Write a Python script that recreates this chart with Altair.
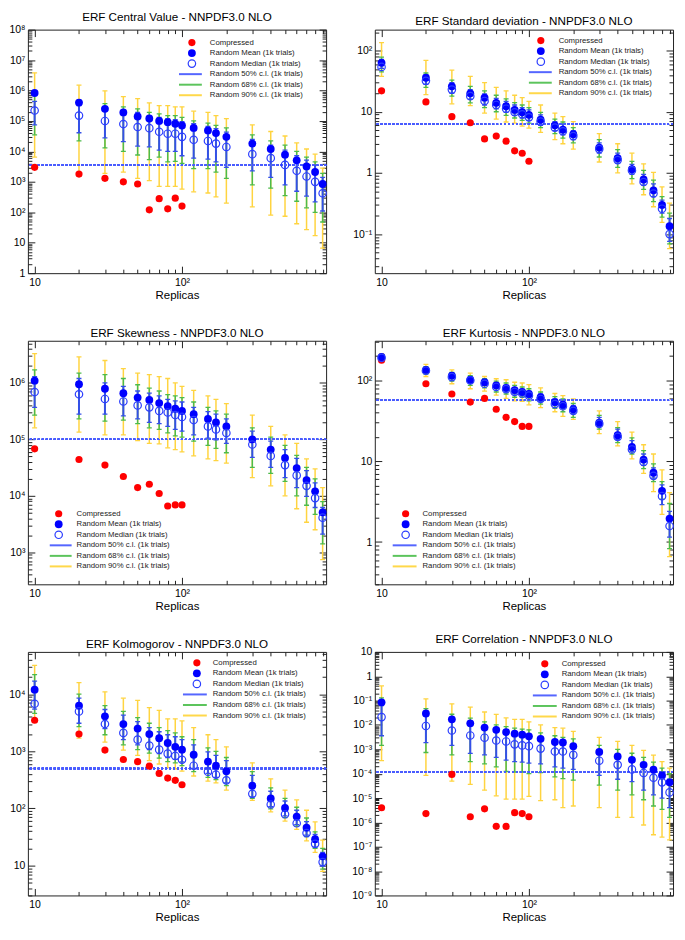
import altair as alt
import pandas as pd

# ------------------------------------------------------------------ data
REPLICAS = [10, 20, 30, 40, 50, 60, 70, 80, 90, 100, 120, 150, 170, 200,
            300, 400, 500, 600, 700, 800, 900]
COMPRESSED_REPLICAS = [10, 20, 30, 40, 50, 60, 70, 80, 90, 100]
LEGEND_LABELS = ["Compressed", "Random Mean (1k trials)", "Random Median (1k trials)",
                 "Random 50% c.l. (1k trials)", "Random 68% c.l. (1k trials)",
                 "Random 90% c.l. (1k trials)"]

# ERF Central Value
CV_MEAN = [8.3e5, 4.0e5, 2.5e5, 1.9e5, 1.4e5, 1.2e5, 1.0e5, 9.1e4, 8.1e4, 7.1e4, 5.9e4,
           4.9e4, 4.0e4, 3.0e4, 1.8e4, 1.2e4, 7.8e3, 5.1e3, 3.2e3, 2.1e3, 850]
CV_MEDIAN = [2.2e5, 1.5e5, 1.0e5, 7.9e4, 6.3e4, 5.8e4, 4.4e4, 3.8e4, 3.8e4, 3.0e4, 2.4e4,
             2.2e4, 1.8e4, 1.4e4, 8.1e3, 6.0e3, 3.6e3, 2.3e3, 1.5e3, 1.0e3, 420]
CV_LO50 = [7.4e4, 4.1e4, 2.8e4, 2.1e4, 1.5e4, 1.4e4, 1.1e4, 1.0e4, 1.0e4, 7.2e3, 6.0e3,
           5.6e3, 4.5e3, 3.0e3, 2.3e3, 1.4e3, 790, 490, 340, 220, 110]
CV_HI50 = [4.4e5, 3.2e5, 2.9e5, 2.2e5, 1.9e5, 1.4e5, 1.3e5, 1.2e5, 1.1e5, 9.5e4, 8.1e4,
           6.6e4, 5.6e4, 4.3e4, 2.5e4, 1.6e4, 1.1e4, 7.2e3, 5.2e3, 3.5e3, 1.4e3]
CV_LO68 = [3.5e4, 2.2e4, 1.3e4, 1.0e4, 7.6e3, 5.4e3, 6.5e3, 4.5e3, 4.7e3, 4.0e3, 2.7e3,
           2.7e3, 2.1e3, 1.3e3, 790, 620, 350, 230, 140, 100, 48]
CV_HI68 = [7.4e5, 4.7e5, 3.7e5, 2.9e5, 2.5e5, 1.9e5, 1.7e5, 1.5e5, 1.5e5, 1.3e5, 1.0e5,
           8.5e4, 7.2e4, 5.9e4, 3.5e4, 2.2e4, 1.6e4, 1.0e4, 6.5e3, 4.5e3, 1.9e3]
CV_LO90 = [6.5e3, 2.0e3, 1.9e3, 2.1e3, 1.3e3, 1.1e3, 710, 710, 710, 580, 470,
           430, 320, 200, 150, 81, 74, 42, 27, 17, 6.6]
CV_HI90 = [3.8e6, 1.5e6, 9.8e5, 6.3e5, 5.4e5, 3.9e5, 3.2e5, 3.2e5, 2.9e5, 2.9e5, 2.1e5,
           1.9e5, 1.5e5, 1.2e5, 7.4e4, 4.5e4, 3.2e4, 1.9e4, 1.2e4, 8.1e3, 2.8e3]
CV_COMP = [3.0e3, 1.8e3, 1.3e3, 1.0e3, 850, 120, 280, 130, 290, 160]
CV_REF = 3.5e3

# ERF Standard deviation
SD_MEAN = [63, 36, 26, 20, 17, 14, 12.3, 10.7, 9.8, 8.9, 7.4, 6.0, 5.1, 4.3, 2.6, 1.74,
           1.15, 0.78, 0.52, 0.30, 0.135]
SD_MEDIAN = [54, 32, 23, 18, 15, 12.9, 11.2, 9.8, 9.1, 8.1, 6.9, 5.5, 4.8, 4.0, 2.45, 1.62,
             1.10, 0.71, 0.46, 0.26, 0.10]
SD_LO50 = [51, 28, 20, 16, 12.9, 11.2, 9.8, 8.7, 7.9, 7.2, 6.0, 4.9, 4.2, 3.5, 2.1, 1.45,
           0.95, 0.63, 0.41, 0.22, 0.076]
SD_HI50 = [72, 40, 30, 23, 19.5, 16.6, 14.8, 12.9, 11.7, 10.7, 8.9, 6.9, 6.2, 4.9, 3.1, 2.1,
           1.38, 0.95, 0.66, 0.36, 0.18]
SD_LO68 = [45, 25, 18, 14, 11.7, 10, 8.7, 7.9, 7.2, 6.5, 5.5, 4.4, 3.7, 3.1, 1.82, 1.23,
           0.81, 0.54, 0.34, 0.19, 0.069]
SD_HI68 = [78, 43, 33, 26, 22, 18.6, 16.2, 14.1, 12.9, 11.7, 9.8, 7.6, 6.8, 5.5, 3.5, 2.4,
           1.55, 1.10, 0.76, 0.41, 0.22]
SD_LO90 = [38, 19, 13.5, 12.6, 9.5, 7.6, 6.8, 6.5, 5.8, 5.4, 4.6, 3.5, 3.0, 2.45, 1.51, 1.0,
           0.66, 0.44, 0.28, 0.155, 0.058]
SD_HI90 = [135, 69, 48, 38, 30, 25, 22, 18.6, 17, 14.8, 12.9, 9.5, 8.3, 6.9, 4.4, 3.0,
           2.1, 1.41, 1.02, 0.59, 0.32]
SD_COMP = [22, 14.5, 8.3, 6.6, 3.6, 4.0, 3.3, 2.3, 2.1, 1.55]
SD_REF = 6.3

# ERF Skewness
SK_MEAN = [1.1e6, 9.5e5, 7.9e5, 6.6e5, 5.5e5, 5.0e5, 4.4e5, 3.9e5, 3.5e5, 3.2e5, 2.8e5,
           2.3e5, 2.0e5, 1.7e5, 1.0e5, 6.6e4, 4.7e4, 3.1e4, 1.9e4, 1.2e4, 5.1e3]
SK_MEDIAN = [6.9e5, 6.3e5, 5.2e5, 4.7e5, 4.0e5, 3.7e5, 3.2e5, 3.0e5, 2.7e5, 2.5e5, 2.2e5,
             1.7e5, 1.5e5, 1.3e5, 8.1e4, 5.1e4, 3.5e4, 2.3e4, 1.5e4, 9.1e3, 4.1e3]
SK_LO50 = [3.7e5, 2.8e5, 2.8e5, 2.6e5, 2.3e5, 2.0e5, 1.9e5, 1.7e5, 1.5e5, 1.4e5, 1.2e5,
           1.05e5, 9.8e4, 8.5e4, 4.8e4, 3.2e4, 2.1e4, 1.4e4, 9.8e3, 6.2e3, 2.1e3]
SK_HI50 = [1.3e6, 1.2e6, 1.0e6, 8.7e5, 7.2e5, 6.6e5, 5.9e5, 5.1e5, 4.8e5, 4.6e5, 3.7e5,
           3.1e5, 2.8e5, 2.3e5, 1.4e5, 9.3e4, 6.6e4, 4.6e4, 2.8e4, 1.7e4, 6.2e3]
SK_LO68 = [2.7e5, 2.3e5, 2.1e5, 2.2e5, 1.9e5, 1.6e5, 1.5e5, 1.3e5, 1.15e5, 1.1e5, 9.3e4,
           7.8e4, 6.9e4, 5.8e4, 3.2e4, 2.5e4, 1.8e4, 1.0e4, 6.8e3, 4.7e3, 1.4e3]
SK_HI68 = [1.7e6, 1.5e6, 1.4e6, 1.2e6, 9.3e5, 8.1e5, 7.2e5, 6.2e5, 5.9e5, 5.5e5, 4.6e5,
           3.7e5, 3.2e5, 2.8e5, 1.6e5, 1.1e5, 7.8e4, 5.2e4, 3.2e4, 2.0e4, 7.9e3]
SK_LO90 = [1.6e5, 1.35e5, 1.2e5, 1.2e5, 9.5e4, 8.5e4, 8.3e4, 7.1e4, 6.6e4, 6.0e4, 5.1e4,
           4.5e4, 4.2e4, 3.8e4, 2.1e4, 1.5e4, 1.0e4, 5.9e3, 3.4e3, 2.5e3, 740]
SK_HI90 = [3.3e6, 2.9e6, 2.5e6, 1.8e6, 1.5e6, 1.4e6, 1.3e6, 1.2e6, 1.0e6, 8.7e5, 7.4e5,
           5.9e5, 5.1e5, 4.3e5, 2.7e5, 1.7e5, 1.2e5, 8.5e4, 4.5e4, 3.0e4, 1.4e4]
SK_COMP = [6.8e4, 4.4e4, 3.5e4, 2.2e4, 1.4e4, 1.6e4, 1.1e4, 6.6e3, 6.9e3, 6.9e3]
SK_REF = 1.0e5

# ERF Kurtosis
KU_MEAN = [195, 135, 115, 102, 95, 87, 81, 76, 72, 68, 62, 54, 50, 44, 30, 21, 15, 10.5,
           7.2, 4.3, 1.95]
KU_MEDIAN = [190, 132, 110, 100, 91, 83, 78, 72, 69, 65, 59, 51, 48, 42, 29, 20, 14, 9.8,
             6.6, 3.7, 1.58]
KU_LO50 = [182, 125, 105, 93, 87, 79, 72, 68, 66, 62, 55, 49, 45, 39, 27, 18.6, 13.2, 8.9,
           6.2, 2.9, 1.15]
KU_HI50 = [200, 141, 120, 110, 100, 93, 87, 81, 78, 74, 68, 59, 55, 49, 35, 25, 18, 12.3,
           8.3, 5.1, 2.4]
KU_LO68 = [178, 120, 98, 87, 81, 72, 68, 62, 62, 56, 51, 45, 41, 35, 25, 17, 12.3, 8.1,
           5.6, 3.4, 0.83]
KU_HI68 = [204, 148, 126, 115, 105, 98, 93, 87, 83, 79, 72, 63, 59, 52, 37, 26, 19.5, 13.5,
           9.3, 5.6, 3.0]
KU_LO90 = [170, 112, 91, 79, 74, 66, 60, 56, 55, 50, 46, 41, 36, 33, 22, 15.5, 10.7, 7.1,
           4.2, 2.2, 0.66]
KU_HI90 = [214, 158, 135, 123, 112, 105, 102, 95, 93, 89, 81, 69, 65, 59, 42, 31, 23, 16,
           12.3, 7.8, 4.1]
KU_COMP = [178, 91, 68, 54, 60, 44, 35, 31, 27, 27]
KU_REF = 57

# ERF Kolmogorov
KO_MEAN = [1.2e4, 6.3e3, 4.1e3, 3.0e3, 2.5e3, 2.0e3, 1.7e3, 1.4e3, 1.2e3, 1.07e3, 870,
           660, 560, 450, 250, 150, 102, 72, 46, 29, 14.5]
KO_MEDIAN = [6.8e3, 5.0e3, 3.0e3, 2.1e3, 1.6e3, 1.26e3, 1.07e3, 910, 830, 710, 560,
             440, 390, 310, 180, 117, 79, 55, 37, 24, 11.5]
KO_LO50 = [5.5e3, 3.1e3, 2.5e3, 1.6e3, 1.3e3, 1.07e3, 910, 780, 720, 650, 500,
           410, 350, 280, 160, 107, 74, 52, 34, 21, 9.8]
KO_HI50 = [1.7e4, 8.5e3, 5.4e3, 4.3e3, 3.3e3, 2.6e3, 2.2e3, 1.95e3, 1.8e3, 1.6e3, 1.3e3,
           980, 850, 690, 380, 200, 135, 93, 59, 35, 17]
KO_LO68 = [4.6e3, 2.7e3, 1.95e3, 1.3e3, 1.07e3, 930, 760, 660, 630, 560, 440,
           350, 320, 250, 150, 98, 69, 49, 32, 20, 8.7]
KO_HI68 = [2.2e4, 1.0e4, 6.3e3, 5.0e3, 3.9e3, 3.1e3, 2.6e3, 2.3e3, 2.1e3, 1.8e3, 1.6e3,
           1.15e3, 1.0e3, 780, 440, 230, 150, 105, 68, 39, 20]
KO_LO90 = [3.7e3, 1.7e3, 1.45e3, 1.05e3, 850, 690, 600, 520, 490, 450, 370,
           300, 280, 210, 138, 87, 60, 43, 27, 17, 7.9]
KO_HI90 = [3.2e4, 1.6e4, 1.1e4, 8.5e3, 7.8e3, 5.8e3, 5.2e3, 3.7e3, 3.7e3, 3.4e3, 2.6e3,
           1.95e3, 1.6e3, 1.2e3, 630, 330, 210, 141, 93, 58, 28]
KO_COMP = [3.5e3, 2.0e3, 1.05e3, 720, 660, 550, 410, 340, 310, 260]
KO_REF = 500

# ERF Correlation
CO_MEAN = [8.5e-2, 2.95e-2, 1.7e-2, 1.17e-2, 7.8e-3, 6.3e-3, 5.1e-3, 4.4e-3, 4.0e-3, 3.4e-3,
           2.7e-3, 2.0e-3, 1.9e-3, 1.35e-3, 7.8e-4, 5.1e-4, 3.7e-4, 2.3e-4, 1.45e-4, 8.5e-5, 4.4e-5]
CO_MEDIAN = [2.1e-2, 9.1e-3, 5.9e-3, 3.7e-3, 3.0e-3, 2.3e-3, 2.1e-3, 1.6e-3, 1.45e-3, 1.35e-3,
             1.07e-3, 8.1e-4, 8.1e-4, 5.9e-4, 3.4e-4, 2.3e-4, 1.5e-4, 1.07e-4, 6.8e-5, 4.4e-5, 1.7e-5]
CO_LO50 = [3.6e-3, 1.9e-3, 1.45e-3, 6.8e-4, 5.9e-4, 4.7e-4, 3.6e-4, 3.1e-4, 3.0e-4, 2.7e-4,
           2.5e-4, 1.9e-4, 1.7e-4, 1.5e-4, 8.5e-5, 5.9e-5, 4.7e-5, 2.1e-5, 1.35e-5, 1.0e-5, 4.0e-6]
CO_HI50 = [6.3e-2, 2.3e-2, 1.6e-2, 1.0e-2, 7.4e-3, 5.4e-3, 4.7e-3, 4.0e-3, 3.6e-3, 3.2e-3,
           2.5e-3, 1.95e-3, 1.7e-3, 1.35e-3, 7.8e-4, 5.4e-4, 3.7e-4, 2.5e-4, 1.6e-4, 9.3e-5, 5.9e-5]
CO_LO68 = [1.45e-3, 7.4e-4, 5.9e-4, 3.1e-4, 2.5e-4, 1.9e-4, 1.23e-4, 1.17e-4, 1.17e-4, 1.0e-4,
           1.1e-4, 7.4e-5, 6.3e-5, 5.4e-5, 3.4e-5, 2.1e-5, 1.35e-5, 8.5e-6, 4.7e-6, 3.4e-6, 1.6e-6]
CO_HI68 = [1.3e-1, 4.7e-2, 2.75e-2, 1.9e-2, 1.35e-2, 1.0e-2, 8.5e-3, 7.4e-3, 6.8e-3, 6.3e-3,
           4.7e-3, 3.6e-3, 3.1e-3, 2.7e-3, 1.45e-3, 1.0e-3, 6.9e-4, 4.7e-4, 3.0e-4, 1.7e-4, 1.0e-4]
CO_LO90 = [3.4e-4, 8.5e-5, 4.9e-5, 3.6e-5, 2.1e-5, 1.23e-5, 9.1e-6, 9.1e-6, 9.1e-6, 1.17e-5,
           7.8e-6, 8.5e-6, 4.0e-6, 4.7e-6, 4.0e-6, 1.6e-6, 1.6e-6, 7.8e-7, 3.1e-7, 2.5e-7, 1.9e-7]
CO_HI90 = [0.40, 0.117, 7.4e-2, 5.4e-2, 3.4e-2, 2.7e-2, 1.95e-2, 1.7e-2, 1.7e-2, 1.35e-2,
           1.0e-2, 7.8e-3, 7.4e-3, 5.4e-3, 3.1e-3, 2.1e-3, 1.45e-3, 9.1e-4, 5.8e-4, 3.1e-4, 1.7e-4]
CO_COMP = [4.0e-6, 2.3e-6, 9.3e-5, 1.7e-6, 3.6e-6, 6.9e-7, 6.8e-7, 2.5e-6, 2.3e-6, 1.7e-6]
CO_REF = 1.17e-4

# ------------------------------------------------------------------ style
FONT = "Liberation Sans"
FRAME = "#222222"
RED = "#ff0000"
BLUE = "#0000ff"
BLUE_OPEN = "#2b3dff"
BLUE_BAR = "#3450e8"
GREEN = "#4cbb4c"
YELLOW = "#ffd440"
DASH = "#4a5cff"
W, H = 300, 245
XDOM = [9, 950]
X_MAJOR = [10, 100]
X_MINOR = [20, 30, 40, 50, 60, 70, 80, 90, 200, 300, 400, 500, 600, 700, 800, 900]
SUP = str.maketrans("-0123456789", "⁻⁰¹²³⁴⁵⁶⁷⁸⁹")
S_FILLED, S_RED, S_OPEN = 62, 52, 56


def pow_label(e):
    if e == 0:
        return "1"
    if e == 1:
        return "10"
    return "10" + str(e).translate(SUP)


def label_expr(exps):
    expr = "''"
    for e in exps:
        expr = f"round(log(datum.value)/LN10)=={e} ? '{pow_label(e)}' : ({expr})"
    return expr


def log_ticks(dmin, dmax):
    import math
    lo, hi = math.floor(math.log10(dmin)), math.ceil(math.log10(dmax))
    major, minor, exps = [], [], []
    for e in range(lo, hi + 1):
        for m in range(1, 10):
            v = float(f"{m}e{e}")
            if dmin * 0.999 <= v <= dmax * 1.001:
                if m == 1:
                    major.append(v)
                    exps.append(e)
                else:
                    minor.append(v)
    return major, minor, exps


def tick_axis(orient, values, size):
    return alt.Axis(orient=orient, values=values, labels=False, ticks=True, tickSize=size,
                    offset=-size, tickColor=FRAME, tickWidth=1, domain=False, grid=False,
                    title=None)


def panel(title, mean, med, lo50, hi50, lo68, hi68, lo90, hi90, comp, ref, ydom, leg):
    xsc = alt.Scale(type="log", domain=XDOM, nice=False)
    ysc = alt.Scale(type="log", domain=ydom, nice=False)
    ymaj, ymin, yexps = log_ticks(*ydom)

    def ex(f, ax=None):
        return alt.X(f, type="quantitative", scale=xsc, axis=ax)

    def ey(f, ax=None):
        return alt.Y(f, type="quantitative", scale=ysc, axis=ax)

    pts = pd.DataFrame({"x": REPLICAS, "mean": mean, "median": med})
    cmp = pd.DataFrame({"x": COMPRESSED_REPLICAS, "v": comp})
    layers = []
    for lo, hi, col, w in [(lo90, hi90, YELLOW, 1.5), (lo68, hi68, GREEN, 1.5),
                           (lo50, hi50, BLUE_BAR, 2)]:
        bars = pd.DataFrame({"x": REPLICAS, "lo": lo, "hi": hi})
        caps = pd.DataFrame({"x": REPLICAS * 2, "v": lo + hi})
        layers.append(alt.Chart(bars).mark_rule(color=col, strokeWidth=w, clip=True)
                      .encode(x=ex("x"), y=ey("lo"), y2=alt.Y2("hi")))
        layers.append(alt.Chart(caps).mark_tick(orient="horizontal", size=5, thickness=1.3,
                                                color=col, opacity=1, clip=True)
                      .encode(x=ex("x"), y=ey("v")))
    layers.append(alt.Chart(pts).mark_rule(color=DASH, strokeDash=[2, 2], strokeWidth=1.3)
                  .encode(y=alt.YDatum(ref, type="quantitative", scale=ysc, axis=None)))
    layers.append(alt.Chart(cmp).mark_point(shape="circle", filled=True, size=S_RED, color=RED,
                                            opacity=1).encode(x=ex("x"), y=ey("v")))
    layers.append(alt.Chart(pts).mark_point(shape="circle", filled=True, size=S_FILLED,
                                            color=BLUE, opacity=1)
                  .encode(x=ex("x"), y=ey("mean")))
    layers.append(alt.Chart(pts).mark_point(shape="circle", filled=False, size=S_OPEN,
                                            color=BLUE_OPEN, strokeWidth=1.2, opacity=1)
                  .encode(x=ex("x"), y=ey("median")))

    # axes: labels + inward ticks on all four sides
    base = alt.Chart(pts).mark_point(opacity=0)
    xlab = alt.Axis(orient="bottom", values=X_MAJOR, labelExpr=label_expr([1, 2]),
                    ticks=False, domain=False, grid=False, labelFont=FONT,
                    labelFontSize=10.5, labelColor="black", labelPadding=4,
                    labelFlush=False, labelOverlap=False,
                    title="Replicas", titleFont=FONT, titleFontSize=11.5,
                    titleFontWeight="normal", titleColor="black", titlePadding=2)
    ylab = alt.Axis(orient="left", values=ymaj, labelExpr=label_expr(yexps), ticks=False,
                    domain=False, grid=False, labelFont=FONT, labelFontSize=10.5,
                    labelColor="black", labelPadding=3, labelFlush=False,
                    labelOverlap=False, title=None)
    layers.append(base.encode(x=ex("x", xlab), y=ey("mean", ylab)))
    layers.append(base.encode(x=ex("x", tick_axis("bottom", X_MAJOR, 7)),
                              y=ey("mean", tick_axis("left", ymaj, 7))))
    layers.append(base.encode(x=ex("x", tick_axis("bottom", X_MINOR, 4)),
                              y=ey("mean", tick_axis("left", ymin, 4))))
    layers.append(base.encode(x=ex("x", tick_axis("top", X_MAJOR, 7)),
                              y=ey("mean", tick_axis("right", ymaj, 7))))
    layers.append(base.encode(x=ex("x", tick_axis("top", X_MINOR, 4)),
                              y=ey("mean", tick_axis("right", ymin, 4))))

    # legend box (drawn inside the frame, like the original)
    mx, lx0, lx1, tx, y0 = leg
    dy = 10.6
    ys = [y0 + i * dy for i in range(6)]
    one = pd.DataFrame({"k": [0]})
    layers.append(alt.Chart(one).mark_point(shape="circle", filled=True, size=S_RED,
                                            color=RED, opacity=1)
                  .encode(x=alt.value(mx), y=alt.value(ys[0])))
    layers.append(alt.Chart(one).mark_point(shape="circle", filled=True, size=S_FILLED,
                                            color=BLUE, opacity=1)
                  .encode(x=alt.value(mx), y=alt.value(ys[1])))
    layers.append(alt.Chart(one).mark_point(shape="circle", filled=False, size=S_OPEN,
                                            color=BLUE_OPEN, strokeWidth=1.2, opacity=1)
                  .encode(x=alt.value(mx), y=alt.value(ys[2])))
    for i, col in [(3, "#5566ff"), (4, "#5cc45c"), (5, "#ffd84a")]:
        layers.append(alt.Chart(one).mark_rule(color=col, strokeWidth=2)
                      .encode(x=alt.value(lx0), x2=alt.value(lx1), y=alt.value(ys[i])))
    for lab, y in zip(LEGEND_LABELS, ys):
        layers.append(alt.Chart(one).mark_text(align="left", baseline="middle", font=FONT,
                                               fontSize=7.8, color="#222222")
                      .encode(x=alt.value(tx), y=alt.value(y), text=alt.value(lab)))

    return (alt.layer(*layers)
            .resolve_axis(x="independent", y="independent")
            .properties(width=W, height=H,
                        title=alt.TitleParams(title, font=FONT, fontSize=11.7,
                                              fontWeight="normal", color="black",
                                              offset=1, anchor="middle")))


panels = [
    panel("ERF Central Value - NNPDF3.0 NLO", CV_MEAN, CV_MEDIAN, CV_LO50, CV_HI50,
          CV_LO68, CV_HI68, CV_LO90, CV_HI90, CV_COMP, CV_REF, [1, 1e8],
          (165, 152, 175, 183, 13)),
    panel("ERF Standard deviation - NNPDF3.0 NLO", SD_MEAN, SD_MEDIAN, SD_LO50, SD_HI50,
          SD_LO68, SD_HI68, SD_LO90, SD_HI90, SD_COMP, SD_REF, [0.023, 220],
          (167, 155, 178, 185, 11)),
    panel("ERF Skewness - NNPDF3.0 NLO", SK_MEAN, SK_MEDIAN, SK_LO50, SK_HI50,
          SK_LO68, SK_HI68, SK_LO90, SK_HI90, SK_COMP, SK_REF, [270, 5.6e6],
          (31, 22, 44, 49, 174)),
    panel("ERF Kurtosis - NNPDF3.0 NLO", KU_MEAN, KU_MEDIAN, KU_LO50, KU_HI50,
          KU_LO68, KU_HI68, KU_LO90, KU_HI90, KU_COMP, KU_REF, [0.3, 310],
          (31, 18, 42, 48, 174)),
    panel("ERF Kolmogorov - NNPDF3.0 NLO", KO_MEAN, KO_MEDIAN, KO_LO50, KO_HI50,
          KO_LO68, KO_HI68, KO_LO90, KO_HI90, KO_COMP, KO_REF, [3, 5.5e4],
          (170, 156, 180, 186, 11)),
    panel("ERF Correlation - NNPDF3.0 NLO", CO_MEAN, CO_MEDIAN, CO_LO50, CO_HI50,
          CO_LO68, CO_HI68, CO_LO90, CO_HI90, CO_COMP, CO_REF, [1e-9, 10],
          (171, 159, 183, 188, 12)),
]

chart = (alt.concat(*panels, columns=2, spacing={"row": 68, "column": 49}, bounds="flush")
         .configure_axis(minExtent=0)
         .configure_view(stroke=FRAME, strokeWidth=1)
         .properties(padding=0, background="white"))

chart.save("out.html", embed_options={"renderer": "svg", "actions": False})
